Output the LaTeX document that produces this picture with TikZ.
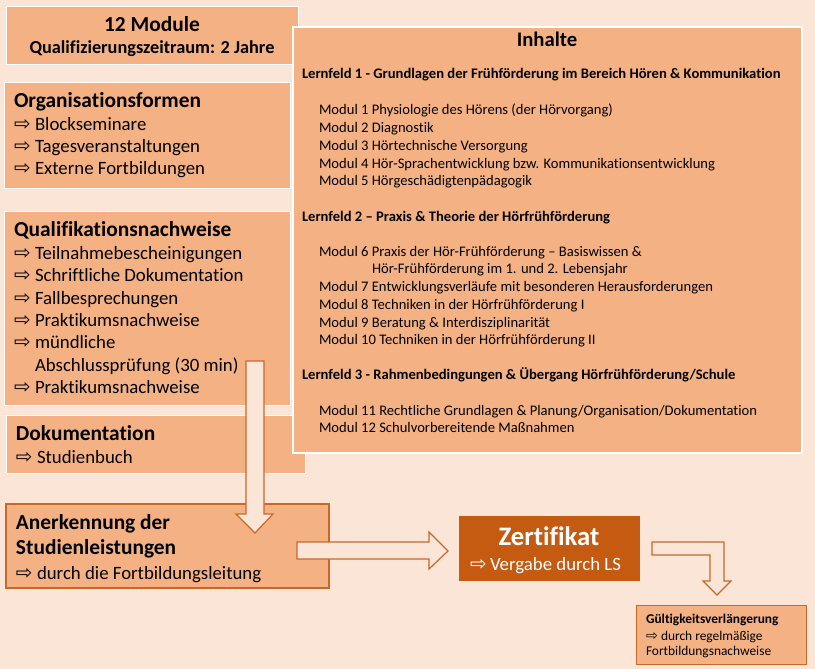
\documentclass[tikz,border=0pt]{standalone}
\usepackage{fontspec}
\setmainfont{Carlito}[Ligatures={NoCommon,NoDiscretionary,NoContextual}]
\newfontfamily\dvfont{DejaVu Sans}[Scale=1.05]
\newcommand\arrw[1]{\makebox[#1][l]{\dvfont ⇨}}
\newcommand\fsz[1]{\fontsize{#1}{#1}\selectfont}
\definecolor{bgc}{HTML}{FBE5D6}
\definecolor{boxc}{HTML}{F4B183}
\definecolor{darkc}{HTML}{C55A11}
\definecolor{linec}{HTML}{C8692A}
\begin{document}
\begin{tikzpicture}[x=1pt,y=-1pt,
  box/.style={fill=boxc, draw=white, line width=0.8pt, inner sep=0pt, outer sep=0pt, anchor=north west},
  obox/.style={fill=boxc, draw=linec, line width=1.2pt, inner sep=0pt, outer sep=0pt, anchor=north west},
  zbox/.style={fill=darkc, draw=none, inner sep=0pt, outer sep=0pt, anchor=north west},
  txt/.style={inner sep=0pt, outer sep=0pt, anchor=base west, text=black},
  ctxt/.style={inner sep=0pt, outer sep=0pt, anchor=base, text=black},
  big/.style={font=\fsz{21.4}\bfseries},
  item/.style={font=\fsz{18.8}},
  lf/.style={font=\fsz{14.6}\bfseries},
  md/.style={font=\fsz{14.6}},
  blockarrow/.style={fill=bgc, draw=linec, line width=1.2pt, line join=miter}
  ]
\fill[bgc] (0,0) rectangle (815,669);
\useasboundingbox (0,0) rectangle (815,669);

% left column boxes
\node[box, minimum width=292pt, minimum height=58pt] (modbox) at (6,6) {};
\node[box, minimum width=286pt, minimum height=106pt] (orgbox) at (4,82) {};
\node[box, minimum width=286pt, minimum height=194pt] (qualbox) at (4,211) {};
\node[box, minimum width=299pt, minimum height=58pt] (dokbox) at (6,415) {};
% Inhalte
\node[box, line width=1.5pt, minimum width=509pt, minimum height=426pt] (inhbox) at (293,27) {};

% top box text
\node[ctxt, big] (t12) at (152,32) {12 Module};
\node[ctxt, font=\fsz{18.3}\bfseries] (tqz) at (152,54) {Qualifizierungszeitraum: 2 Jahre};

% Organisationsformen
\node[txt, big] (torg) at (14,107) {Organisationsformen};
\node[txt, item] (o1) at (14,131) {\arrw{21pt}Blockseminare};
\node[txt, item] (o2) at (14,153) {\arrw{21pt}Tagesveranstaltungen};
\node[txt, item] (o3) at (14,175) {\arrw{21pt}Externe Fortbildungen};

% Qualifikationsnachweise
\node[txt, big] (tqual) at (14,236) {Qualifikationsnachweise};
\node[txt, item] (q1) at (14,259) {\arrw{21pt}Teilnahmebescheinigungen};
\node[txt, item] (q2) at (14,281) {\arrw{21pt}Schriftliche Dokumentation};
\node[txt, item] (q3) at (14,304) {\arrw{21pt}Fallbesprechungen};
\node[txt, item] (q4) at (14,326) {\arrw{21pt}Praktikumsnachweise};
\node[txt, item] (q5) at (14,348) {\arrw{21pt}mündliche};
\node[txt, item] (q5b) at (35,371) {Abschlussprüfung (30 min)};
\node[txt, item] (q6) at (14,393) {\arrw{21pt}Praktikumsnachweise};

% Dokumentation
\node[txt, big] (tdok) at (16,440) {Dokumentation};
\node[txt, item] (d1) at (16,463) {\arrw{21pt}Studienbuch};

% Inhalte text
\node[ctxt, font=\fsz{20.7}\bfseries] (tinh) at (547,47) {Inhalte};
\node[txt, lf] (lf1) at (302,79) {Lernfeld 1 - Grundlagen der Frühförderung im Bereich Hören \& Kommunikation};
\node[txt, md] (m1) at (319,115) {Modul 1 Physiologie des Hörens (der Hörvorgang)};
\node[txt, md] (m2) at (319,132) {Modul 2 Diagnostik};
\node[txt, md] (m3) at (319,150) {Modul 3 Hörtechnische Versorgung};
\node[txt, md] (m4) at (319,168) {Modul 4 Hör-Sprachentwicklung bzw. Kommunikationsentwicklung};
\node[txt, md] (m5) at (319,185) {Modul 5 Hörgeschädigtenpädagogik};
\node[txt, lf] (lf2) at (302,221) {Lernfeld 2 – Praxis \& Theorie der Hörfrühförderung};
\node[txt, md] (m6) at (319,256) {Modul 6 Praxis der Hör-Frühförderung – Basiswissen \&};
\node[txt, md] (m6b) at (372,273) {Hör-Frühförderung im 1. und 2. Lebensjahr};
\node[txt, md] (m7) at (319,291) {Modul 7 Entwicklungsverläufe mit besonderen Herausforderungen};
\node[txt, md] (m8) at (319,309) {Modul 8 Techniken in der Hörfrühförderung I};
\node[txt, md] (m9) at (319,327) {Modul 9 Beratung \& Interdisziplinarität};
\node[txt, md] (m10) at (319,344) {Modul 10 Techniken in der Hörfrühförderung II};
\node[txt, lf] (lf3) at (302,379) {Lernfeld 3 - Rahmenbedingungen \& Übergang Hörfrühförderung/Schule};
\node[txt, md] (m11) at (319,415) {Modul 11 Rechtliche Grundlagen \& Planung/Organisation/Dokumentation};
\node[txt, md] (m12) at (319,432) {Modul 12 Schulvorbereitende Maßnahmen};

% Anerkennung
\node[obox, minimum width=323pt, minimum height=84pt] (anbox) at (6,504) {};
\node[txt, big] (an1) at (16,529) {Anerkennung der};
\node[txt, big] (an2) at (16,554) {Studienleistungen};
\node[txt, item] (an3) at (16,579) {\arrw{21pt}durch die Fortbildungsleitung};

% Zertifikat
\node[zbox, minimum width=181pt, minimum height=65pt] (zbox) at (459,516) {};
\node[ctxt, font=\fsz{26.7}\bfseries, text=white] (z1) at (549,545) {Zertifikat};
\node[txt, item, text=white] (z2) at (470,570) {\arrw{20pt}Vergabe durch LS};

% Gueltigkeit
\node[obox, line width=1pt, minimum width=170pt, minimum height=59pt] (gbox) at (636,605) {};
\node[txt, font=\fsz{13.4}\bfseries] (g1) at (646,623) {Gültigkeitsverlängerung};
\node[txt, font=\fsz{13.4}] (g2) at (646,640) {\arrw{15pt}durch regelmäßige};
\node[txt, font=\fsz{13.4}] (g3) at (646,655) {Fortbildungsnachweise};

% block arrows
\draw[blockarrow] (246,361) -- (264,361) -- (264,514) -- (273,514) -- (255,533) -- (236,514) -- (246,514) -- cycle;
\draw[blockarrow] (297,542) -- (429,542) -- (429,532) -- (448,551) -- (429,569) -- (429,559) -- (297,559) -- cycle;
\draw[blockarrow] (652,542) -- (724,542) -- (724,581) -- (731,581) -- (717,595) -- (703,581) -- (710,581) -- (710,555) -- (652,555) -- cycle;
\end{tikzpicture}
\end{document}
